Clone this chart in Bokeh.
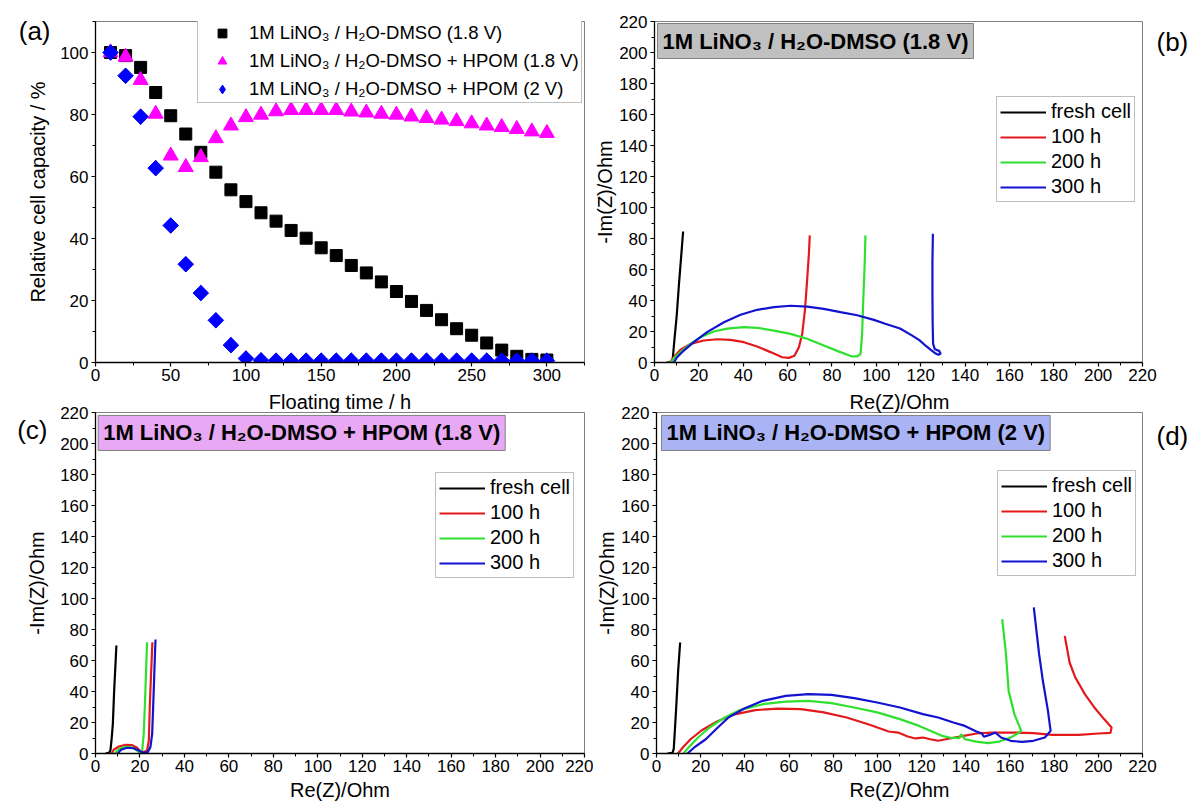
import math
from bokeh.plotting import figure
from bokeh.models import Range1d, FixedTicker, Label, Legend, LegendItem, LinearAxis, Title
from bokeh.layouts import column, row
from bokeh.embed import file_html
from bokeh.resources import INLINE

FONT = "Liberation Sans"

# ---------------- data: panel (a) ----------------
time_h = [10, 20, 30, 40, 50, 60, 70, 80, 90, 100, 110, 120, 130, 140, 150,
          160, 170, 180, 190, 200, 210, 220, 230, 240, 250, 260, 270, 280, 290, 300]
cap_ref_18V = [100.0, 99.0, 95.2, 87.1, 79.6, 73.7, 67.8, 61.4, 55.7, 51.9, 48.3, 45.6, 42.6, 40.1, 37.0,
               34.5, 31.3, 28.9, 26.0, 22.9, 19.7, 16.8, 13.8, 10.9, 8.8, 6.3, 4.0, 2.0, 1.0, 0.8]
cap_hpom_18V = [100.0, 98.6, 91.1, 80.2, 66.7, 63.0, 66.2, 72.3, 76.4, 79.1, 79.9, 81.0, 81.4, 81.4, 81.4,
                81.4, 80.9, 80.6, 80.2, 79.9, 79.3, 78.8, 78.3, 77.8, 77.1, 76.4, 75.9, 75.3, 74.5, 74.0]
cap_hpom_2V = [100.0, 92.5, 79.3, 62.7, 44.2, 31.7, 22.4, 13.6, 5.6, 1.3, 0.7, 0.6, 0.6, 0.6, 0.6,
               0.6, 0.6, 0.6, 0.6, 0.6, 0.6, 0.6, 0.6, 0.6, 0.6, 0.6, 0.6, 0.6, 0.6, 0.6]
labels_a = ["1M LiNO\u2083 / H\u2082O-DMSO (1.8 V)",
            "1M LiNO\u2083 / H\u2082O-DMSO + HPOM (1.8 V)",
            "1M LiNO\u2083 / H\u2082O-DMSO + HPOM (2 V)"]

ticks_time = [0, 50, 100, 150, 200, 250, 300]
minor_time = [25, 75, 125, 175, 225, 275, 325]
ticks_cap = [0, 20, 40, 60, 80, 100]
minor_cap = [10, 30, 50, 70, 90, 110]
ticks_z = [0, 20, 40, 60, 80, 100, 120, 140, 160, 180, 200, 220]
minor_z = [10, 30, 50, 70, 90, 110, 130, 150, 170, 190, 210]

legend_eis = ["fresh cell", "100 h", "200 h", "300 h"]
titles_eis = ["1M LiNO\u2083 / H\u2082O-DMSO (1.8 V)",
              "1M LiNO\u2083 / H\u2082O-DMSO + HPOM (1.8 V)",
              "1M LiNO\u2083 / H\u2082O-DMSO + HPOM (2 V)"]
panel_tags = ["(a)", "(b)", "(c)", "(d)"]

# ---------------- data: panel (b) ----------------
b_fresh_re = [5.5, 7.5, 8.2, 9.0, 10.0, 11.0, 12.0, 12.9]
b_fresh_im = [0.0, 0.3, 2.0, 15.0, 30.0, 50.0, 68.0, 84.5]
b_100_re = [6.9, 8.7, 11.7, 16.2, 22.2, 28.2, 34.3, 40.3, 46.3, 52.3, 57.6, 60.6, 63.1, 65.1, 66.6, 67.8, 68.8, 69.6, 70.0]
b_100_im = [0.0, 3.4, 8.2, 12.0, 14.2, 15.0, 14.6, 13.1, 10.3, 6.7, 3.4, 3.0, 4.3, 9.9, 18.5, 33.5, 52.9, 70.0, 82.0]
b_200_re = [7.2, 9.5, 12.5, 16.2, 20.7, 26.7, 32.8, 40.3, 46.3, 53.8, 61.3, 68.8, 76.3, 83.8, 89.1, 91.4, 92.9, 93.6, 94.1, 94.7, 95.1]
b_200_im = [0.0, 3.9, 7.7, 12.0, 16.3, 20.0, 21.9, 22.8, 22.4, 20.6, 18.5, 15.3, 11.0, 6.7, 3.9, 3.9, 5.6, 18.5, 40.0, 61.5, 82.0]
b_300_re = [8.7, 10.2, 13.2, 17.7, 23.7, 31.3, 38.8, 46.3, 53.8, 61.3, 68.8, 76.3, 83.8, 91.4, 98.9, 104.0, 110.7,
            116.0, 119.4, 122.5, 124.7, 126.5, 128.0, 129.0, 128.3, 126.4, 125.6, 125.4, 125.3, 125.3, 125.5]
b_300_im = [0.0, 3.4, 7.7, 13.1, 19.6, 26.0, 30.8, 34.0, 35.7, 36.6, 36.1, 34.6, 32.5, 30.5, 27.5, 25.0, 21.9,
            17.5, 14.4, 10.5, 8.0, 6.0, 5.0, 5.6, 7.5, 8.5, 12.0, 25.0, 45.0, 65.0, 83.0]

# ---------------- data: panel (c) ----------------
c_fresh_re = [4.5, 6.0, 6.7, 7.2, 7.8, 8.4, 9.0, 9.4]
c_fresh_im = [0.0, 0.4, 1.9, 8.4, 19.0, 40.6, 57.8, 69.7]
c_100_re = [7.2, 8.2, 10.5, 13.5, 16.5, 18.7, 20.2, 21.7, 23.2, 24.0, 24.4, 25.0, 25.6]
c_100_im = [0.0, 2.4, 4.5, 5.6, 5.4, 3.7, 1.5, 0.9, 1.9, 8.4, 29.9, 51.4, 71.8]
c_200_re = [8.7, 10.5, 13.5, 16.5, 18.7, 19.9, 21.0, 21.7, 22.3, 22.8, 23.2]
c_200_im = [0.0, 3.0, 4.3, 3.9, 1.9, 0.6, 1.9, 12.7, 34.2, 55.7, 71.8]
c_300_re = [10.0, 11.5, 14.2, 17.2, 19.5, 21.7, 23.5, 24.7, 25.5, 26.2, 26.7, 27.0]
c_300_im = [0.0, 2.4, 3.7, 3.4, 1.9, 0.4, 0.9, 4.1, 12.7, 40.6, 62.2, 73.5]

# ---------------- data: panel (d) ----------------
d_fresh_re = [5.0, 7.2, 7.8, 8.3, 9.0, 9.8, 10.7]
d_fresh_im = [0.0, 0.4, 2.8, 14.6, 31.8, 53.3, 71.6]
d_100_re = [9.7, 11.9, 15.4, 20.5, 27.4, 34.3, 44.7, 55.0, 65.4, 75.7, 86.1, 96.5, 105.1, 109.4, 113.7, 117.2,
            120.6, 124.0, 127.5, 131.0, 137.9, 144.8, 151.7, 162.0, 170.6, 179.3, 191.3, 200.0, 205.5, 206.0,
            202.6, 198.2, 193.9, 189.6, 187.0, 184.8]
d_100_im = [0.0, 3.9, 9.2, 15.0, 20.6, 24.9, 28.0, 29.0, 28.6, 26.5, 23.2, 18.5, 14.2, 13.5, 11.0, 9.7,
            10.3, 9.2, 8.2, 9.2, 11.0, 12.9, 13.5, 13.5, 13.1, 12.0, 12.0, 12.9, 13.3, 16.8,
            22.2, 29.7, 38.3, 49.0, 58.7, 75.9]
d_200_re = [12.2, 14.5, 18.8, 24.0, 30.9, 37.8, 48.1, 58.5, 68.8, 79.2, 89.5, 99.9, 110.2, 118.9, 125.8, 129.2,
            132.7, 137.0, 137.9, 139.6, 144.8, 149.9, 155.1, 160.3, 163.7, 165.1, 162.0, 159.4, 158.2, 156.5]
d_200_im = [0.0, 3.9, 10.3, 16.8, 23.2, 28.0, 31.8, 33.5, 34.0, 32.5, 29.7, 26.5, 22.2, 17.8, 13.5, 11.4,
            10.3, 9.9, 12.5, 9.2, 7.7, 6.7, 7.7, 10.3, 13.1, 14.6, 25.4, 40.4, 64.1, 86.7]
d_300_re = [14.0, 17.1, 22.3, 27.4, 32.6, 39.5, 48.1, 58.5, 68.8, 79.2, 89.5, 99.9, 110.2, 120.6, 127.5, 134.4,
            139.6, 144.8, 147.3, 148.2, 150.8, 153.4, 156.0, 160.3, 165.5, 170.6, 175.8, 178.4, 177.2, 174.9,
            173.2, 172.0, 170.8]
d_300_im = [0.0, 3.9, 9.2, 16.3, 23.2, 28.9, 34.0, 37.2, 38.3, 37.8, 35.7, 32.9, 29.7, 25.4, 23.2, 20.0,
            17.8, 14.2, 12.9, 10.8, 12.0, 13.5, 10.3, 8.2, 7.5, 8.2, 10.3, 14.6, 27.5, 46.9,
            64.1, 79.1, 94.2]

EIS_COLORS = ["#000000", "#e3191c", "#2fe02f", "#1212d0"]


def make_fig(w, h, xr, yr, left, right, top, bottom):
    p = figure(width=w, height=h, x_range=Range1d(*xr), y_range=Range1d(*yr),
               output_backend="svg", toolbar_location=None,
               min_border_left=left, min_border_right=right,
               min_border_top=top, min_border_bottom=bottom)
    p.grid.visible = False
    p.outline_line_color = "#808080"
    p.outline_line_width = 1
    p.background_fill_color = "white"
    p.border_fill_color = "white"
    return p


def style_axes(p, xt, xm, yt, ym, xlabel, ylabel, xls, yls):
    for ax, t, m in ((p.xaxis[0], xt, xm), (p.yaxis[0], yt, ym)):
        ax.ticker = FixedTicker(ticks=t, minor_ticks=m)
        ax.axis_line_color = "black"
        ax.axis_line_width = 1.3
        ax.major_tick_line_color = "black"
        ax.major_tick_line_width = 1.2
        ax.major_tick_out = 4
        ax.major_tick_in = 0
        ax.minor_tick_line_color = "black"
        ax.minor_tick_out = 3
        ax.minor_tick_in = 0
        ax.major_label_text_font = FONT
        ax.major_label_text_font_size = "17px"
        ax.major_label_text_color = "black"
        ax.major_label_standoff = 2
        ax.axis_label_text_font = FONT
        ax.axis_label_text_font_size = "20px"
        ax.axis_label_text_font_style = "normal"
        ax.axis_label_text_color = "black"
    p.yaxis[0].major_label_standoff = 3
    p.xaxis[0].axis_label = xlabel
    p.yaxis[0].axis_label = ylabel
    p.xaxis[0].axis_label_standoff = xls
    p.yaxis[0].axis_label_standoff = yls


def tag_axis(p, side, pos, text, standoff):
    """Panel letter drawn as the single tick label of a bare extra axis beside the frame."""
    ax = LinearAxis(ticker=FixedTicker(ticks=[pos], minor_ticks=[]),
                    major_label_overrides={pos: text},
                    axis_line_color=None, major_tick_line_color=None, minor_tick_line_color=None,
                    major_tick_out=0, major_tick_in=0, minor_tick_out=0, minor_tick_in=0,
                    major_label_standoff=standoff, major_label_text_font=FONT,
                    major_label_text_font_size="26px", major_label_text_color="black")
    p.add_layout(ax, side)


def title_box(p, x, y, text, fill):
    p.add_layout(Label(x=x, y=y, text=text, text_font=FONT, text_font_size="22px",
                       text_font_style="bold", text_align="left", text_baseline="top",
                       text_color="black", background_fill_color=fill, background_fill_alpha=1.0,
                       border_line_color="#808080", border_line_width=1, padding=5))


def top_title(p, text):
    p.add_layout(Title(text=text, align="center", text_font=FONT, text_font_size="20px",
                       text_font_style="normal", text_color="black", standoff=0), "above")


def eis_panel(p, curves, loc):
    items = []
    for (re_, im_), col, lab in zip(curves, EIS_COLORS, legend_eis):
        r = p.line(re_, im_, line_color=col, line_width=2.2)
        items.append(LegendItem(label=lab, renderers=[r]))
    leg = Legend(items=items, location=loc, label_text_font=FONT, label_text_font_size="20px",
                 label_text_color="black", glyph_width=46, glyph_height=22, label_height=22,
                 label_standoff=5, spacing=2, padding=3, margin=0,
                 border_line_color="#808080", border_line_width=1, background_fill_alpha=1.0)
    p.add_layout(leg)


# ---------------- panel (a) ----------------
pa = make_fig(586, 388, (0, 325), (0, 110), 95, 2, 21, 26)
style_axes(pa, ticks_time, minor_time, ticks_cap, minor_cap, None, "Relative cell capacity / %", 0, 8)
r1 = pa.scatter(time_h, cap_ref_18V, marker="square", size=12, color="black")
r2 = pa.scatter(time_h, cap_hpom_18V, marker="triangle", size=15, color="#ff00ff")
# legend key for the diamonds (hidden beneath the rotated squares drawn next)
r3_key = pa.scatter(time_h, cap_hpom_2V, marker="diamond", size=15, color="#0000ff")
r3 = pa.scatter(time_h, cap_hpom_2V, marker="square", angle=math.pi / 4, size=11, color="#0000ff")
leg_a = Legend(items=[LegendItem(label=labels_a[0], renderers=[r1]),
                      LegendItem(label=labels_a[1], renderers=[r2]),
                      LegendItem(label=labels_a[2], renderers=[r3_key])],
               location=(102, 259), label_text_font=FONT, label_text_font_size="18.5px",
               label_text_color="black", glyph_width=44, glyph_height=22, label_height=22,
               label_standoff=5, spacing=6, padding=2, margin=0,
               border_line_color="#808080", border_line_width=1, background_fill_alpha=1.0)
pa.add_layout(leg_a)
tag_axis(pa, "left", 107, panel_tags[0], -26)

# ---------------- panel (b) ----------------
pb = make_fig(609, 388, (0, 220), (0, 220), 68, 53, 21, 26)
style_axes(pb, ticks_z, minor_z, ticks_z, minor_z, None, "-Im(Z)/Ohm", 0, 0)
eis_panel(pb, [(b_fresh_re, b_fresh_im), (b_100_re, b_100_im), (b_200_re, b_200_im), (b_300_re, b_300_im)], (342, 160))
title_box(pb, 1.35, 218.7, titles_eis[0], "#c0c0c0")
tag_axis(pb, "right", 207, panel_tags[1], 14)

# ---------------- panel (c) ----------------
pc = make_fig(593, 422, (0, 220), (0, 220), 95, 9, 24, 57)
style_axes(pc, ticks_z, minor_z, ticks_z, minor_z, "Re(Z)/Ohm", "-Im(Z)/Ohm", 4, 9)
eis_panel(pc, [(c_fresh_re, c_fresh_im), (c_100_re, c_100_im), (c_200_re, c_200_im), (c_300_re, c_300_im)], (340, 175))
title_box(pc, 1.2, 218.1, titles_eis[1], "#e8a8f4")
tag_axis(pc, "left", 209, panel_tags[2], -24)
# x-axis title of panel (a), which sits just above panel (c)
top_title(pc, "Floating time / h")

# ---------------- panel (d) ----------------
pd_ = make_fig(602, 422, (0, 220), (0, 220), 61, 53, 24, 57)
style_axes(pd_, ticks_z, minor_z, ticks_z, minor_z, "Re(Z)/Ohm", "-Im(Z)/Ohm", 4, 0)
eis_panel(pd_, [(d_fresh_re, d_fresh_im), (d_100_re, d_100_im), (d_200_re, d_200_im), (d_300_re, d_300_im)], (341, 177))
title_box(pd_, 2.25, 218.1, titles_eis[2], "#aab4f4")
tag_axis(pd_, "right", 205, panel_tags[3], 14)
# x-axis title of panel (b), which sits just above panel (d)
top_title(pd_, "Re(Z)/Ohm")

layout = column(row(pa, pb), row(pc, pd_))
open("out.html", "w").write(file_html(layout, INLINE, "Floating test"))
